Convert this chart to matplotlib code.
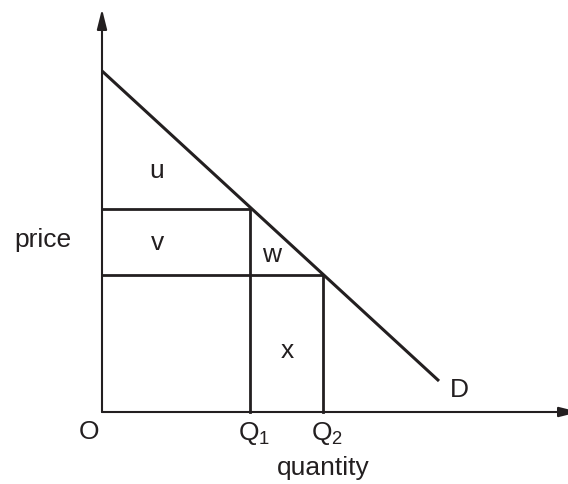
import matplotlib.pyplot as plt

# demand curve end points (quantity, price)
demand_q = [0, 337]
demand_p = [341, 31]
# the two quantities and their prices on the demand line
q_levels = [148, 221]
p_levels = [203, 137]
q_labels = ['Q$_1$', 'Q$_2$']
area_labels = ['u', 'v', 'w', 'x']
area_pos = [(55, 234), (56, 162), (170, 150), (185, 54)]

ink = '#231f20'
plt.rcParams['font.family'] = ['Liberation Sans', 'DejaVu Sans']
plt.rcParams['mathtext.fontset'] = 'custom'
plt.rcParams['mathtext.rm'] = 'Liberation Sans'
plt.rcParams['mathtext.it'] = 'Liberation Sans'

fig = plt.figure(figsize=(5.68, 4.84), dpi=100)
ax = fig.add_axes([0, 0, 1, 1])
ax.set_xlim(-102, 466)
ax.set_ylim(-72, 412)
ax.axis('off')

# axes with arrows
head = dict(arrowstyle='-|>,head_length=1.0,head_width=0.25', lw=1.5,
            color=ink, shrinkA=0, shrinkB=0, mutation_scale=12)
ax.annotate('', xy=(0, 403), xytext=(0, 0), arrowprops=head, annotation_clip=False)
ax.annotate('', xy=(477, 0), xytext=(0, 0), arrowprops=head, annotation_clip=False)

# demand line
ax.plot(demand_q, demand_p, color=ink, lw=2.2, solid_capstyle='butt')

# price and quantity guide lines
for q, p in zip(q_levels, p_levels):
    ax.plot([0, q], [p, p], color=ink, lw=2)
    ax.plot([q, q], [0, p], color=ink, lw=2)

fs = 19
for lab, (x, y) in zip(area_labels, area_pos):
    ax.text(x, y, lab, fontsize=fs, ha='center', va='baseline', color=ink)

for q, lab in zip(q_levels, q_labels):
    ax.text(q - 12, -28, lab, fontsize=fs, ha='left', va='baseline', color=ink)

ax.text(-13, -27, 'O', fontsize=fs, ha='center', va='baseline', color=ink)
ax.text(-59, 165, 'price', fontsize=fs, ha='center', va='baseline', color=ink)
ax.text(221, -63, 'quantity', fontsize=fs, ha='center', va='baseline', color=ink)
ax.text(357, 15, 'D', fontsize=fs, ha='center', va='baseline', color=ink)

fig.savefig('out.png', dpi=100)
